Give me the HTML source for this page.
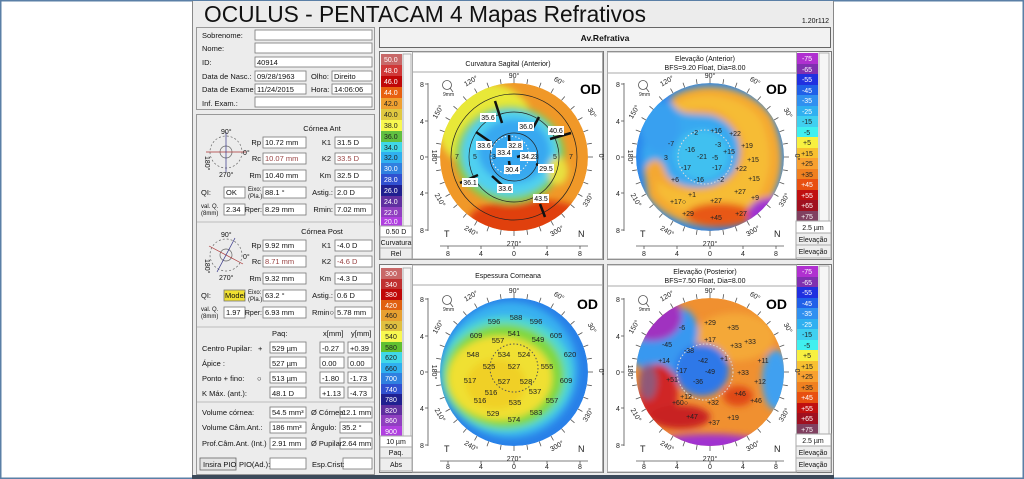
<!DOCTYPE html>
<html><head><meta charset="utf-8"><style>
html,body{margin:0;padding:0;background:#fff}
svg{display:block;font-family:"Liberation Sans",sans-serif}
.s{font-size:7.5px;fill:#111}
.in{fill:#fff;stroke:#777;stroke-width:0.8}
.p{fill:#ececec;stroke:#999;stroke-width:1}
.t{font-size:7px;fill:#111}
</style></head><body>
<svg width="1024" height="479" viewBox="0 0 1024 479" xmlns="http://www.w3.org/2000/svg">
<defs>
<filter id="b" x="-20%" y="-20%" width="140%" height="140%"><feGaussianBlur stdDeviation="3.5"/></filter>
<clipPath id="cc"><circle cx="0" cy="0" r="74"/></clipPath>
<g id="ticks" stroke="#555" stroke-width="0.8">
<line x1="0" y1="-74" x2="0" y2="-79"/><line x1="0" y1="74" x2="0" y2="79"/><line x1="-74" y1="0" x2="-79" y2="0"/><line x1="74" y1="0" x2="79" y2="0"/>
<line x1="12.9" y1="-72.9" x2="13.7" y2="-77.8"/><line x1="25.3" y1="-69.5" x2="27" y2="-74.2"/><line x1="37" y1="-64.1" x2="39.5" y2="-68.4"/><line x1="47.6" y1="-56.7" x2="50.8" y2="-60.5"/><line x1="56.7" y1="-47.6" x2="60.5" y2="-50.8"/><line x1="64.1" y1="-37" x2="68.4" y2="-39.5"/><line x1="69.5" y1="-25.3" x2="74.2" y2="-27"/><line x1="72.9" y1="-12.9" x2="77.8" y2="-13.7"/>
<line x1="-12.9" y1="-72.9" x2="-13.7" y2="-77.8"/><line x1="-25.3" y1="-69.5" x2="-27" y2="-74.2"/><line x1="-37" y1="-64.1" x2="-39.5" y2="-68.4"/><line x1="-47.6" y1="-56.7" x2="-50.8" y2="-60.5"/><line x1="-56.7" y1="-47.6" x2="-60.5" y2="-50.8"/><line x1="-64.1" y1="-37" x2="-68.4" y2="-39.5"/><line x1="-69.5" y1="-25.3" x2="-74.2" y2="-27"/><line x1="-72.9" y1="-12.9" x2="-77.8" y2="-13.7"/>
<line x1="12.9" y1="72.9" x2="13.7" y2="77.8"/><line x1="25.3" y1="69.5" x2="27" y2="74.2"/><line x1="37" y1="64.1" x2="39.5" y2="68.4"/><line x1="47.6" y1="56.7" x2="50.8" y2="60.5"/><line x1="56.7" y1="47.6" x2="60.5" y2="50.8"/><line x1="64.1" y1="37" x2="68.4" y2="39.5"/><line x1="69.5" y1="25.3" x2="74.2" y2="27"/><line x1="72.9" y1="12.9" x2="77.8" y2="13.7"/>
<line x1="-12.9" y1="72.9" x2="-13.7" y2="77.8"/><line x1="-25.3" y1="69.5" x2="-27" y2="74.2"/><line x1="-37" y1="64.1" x2="-39.5" y2="68.4"/><line x1="-47.6" y1="56.7" x2="-50.8" y2="60.5"/><line x1="-56.7" y1="47.6" x2="-60.5" y2="50.8"/><line x1="-64.1" y1="37" x2="-68.4" y2="39.5"/><line x1="-69.5" y1="25.3" x2="-74.2" y2="27"/><line x1="-72.9" y1="12.9" x2="-77.8" y2="13.7"/>
<line x1="-86" y1="-74" x2="-86" y2="74"/><line x1="-74" y1="89" x2="74" y2="89"/>
<line x1="-89" y1="-73" x2="-86" y2="-73"/><line x1="-89" y1="-36" x2="-86" y2="-36"/><line x1="-89" y1="0" x2="-86" y2="0"/><line x1="-89" y1="36" x2="-86" y2="36"/><line x1="-89" y1="73" x2="-86" y2="73"/>
<line x1="-66" y1="89" x2="-66" y2="92"/><line x1="-33" y1="89" x2="-33" y2="92"/><line x1="0" y1="89" x2="0" y2="92"/><line x1="33" y1="89" x2="33" y2="92"/><line x1="66" y1="89" x2="66" y2="92"/>
<circle cx="-67" cy="-72" r="4.5" fill="none"/><line x1="-64" y1="-69" x2="-61" y2="-65"/>
</g>
</defs>
<rect x="0.5" y="0.5" width="1023" height="478" fill="#fff" stroke="#5a7fa6" stroke-width="2"/>
<rect x="192" y="1" width="642" height="477" fill="#ececec"/>
<line x1="192.5" y1="1" x2="192.5" y2="478" stroke="#888"/>
<line x1="833.5" y1="1" x2="833.5" y2="478" stroke="#888"/>
<rect x="192" y="475" width="642" height="4" fill="#3c4a5a"/>
<text x="204" y="22" font-size="23" fill="#111" textLength="442" lengthAdjust="spacingAndGlyphs">OCULUS - PENTACAM 4 Mapas Refrativos</text>
<text x="829" y="23" text-anchor="end" class="t">1.20r112</text>

<rect x="196.5" y="27.5" width="178" height="82" class="p"/>
<g class="s">
<text x="202" y="38">Sobrenome:</text><text x="202" y="51">Nome:</text><text x="202" y="65">ID:</text>
<text x="202" y="79">Data de Nasc.:</text><text x="202" y="92">Data de Exame:</text><text x="202" y="106">Inf. Exam.:</text>
</g>
<rect x="255" y="30" width="117" height="10" class="in"/><rect x="255" y="43" width="117" height="10" class="in"/>
<rect x="255" y="57" width="117" height="10" class="in"/><rect x="255" y="71" width="51" height="10" class="in"/>
<rect x="332" y="71" width="40" height="10" class="in"/><rect x="255" y="84" width="51" height="10" class="in"/>
<rect x="332" y="84" width="40" height="10" class="in"/><rect x="255" y="97" width="117" height="10" class="in"/>
<g class="s"><text x="257" y="65">40914</text><text x="257" y="79">09/28/1963</text><text x="311" y="79">Olho:</text><text x="334" y="79">Direito</text>
<text x="257" y="92">11/24/2015</text><text x="311" y="92">Hora:</text><text x="334" y="92">14:06:06</text></g>

<rect x="196.5" y="114.5" width="178" height="360" class="p"/>
<line x1="197" y1="222" x2="374" y2="222" stroke="#bbb"/>
<line x1="197" y1="327" x2="374" y2="327" stroke="#bbb"/>
<line x1="197" y1="402" x2="374" y2="402" stroke="#bbb"/>
<g transform="translate(226,152)" stroke="#666" fill="none" stroke-width="0.7">
<circle r="16" stroke-dasharray="2 2"/><circle r="6"/><line x1="-20" y1="0" x2="20" y2="0" stroke="#a33"/><line x1="0" y1="-20" x2="0" y2="20" stroke="#338"/>
</g>
<g transform="translate(226,255)" stroke="#666" fill="none" stroke-width="0.7">
<circle r="16" stroke-dasharray="2 2"/><circle r="6"/><line x1="-17" y1="-9" x2="17" y2="9" stroke="#a33"/><line x1="-9" y1="17" x2="9" y2="-17" stroke="#338"/>
</g>
<g class="t"><text x="221" y="134">90°</text><text x="219" y="177">270°</text><text x="221" y="237">90°</text><text x="219" y="280">270°</text>
<text transform="translate(205,156) rotate(90)">180°</text><text x="243" y="155">0°</text><text transform="translate(205,259) rotate(90)">180°</text><text x="243" y="259">0°</text></g>

<g class="s">
<text x="322" y="131" text-anchor="middle">Córnea Ant</text>
<text x="261" y="145" text-anchor="end">Rp</text><text x="261" y="161" text-anchor="end">Rc</text><text x="261" y="178" text-anchor="end">Rm</text>
<text x="331" y="145" text-anchor="end">K1</text><text x="331" y="161" text-anchor="end">K2</text><text x="331" y="178" text-anchor="end">Km</text>
<text x="201" y="195">QI:</text><text x="248" y="191" font-size="6">Eixo:</text><text x="248" y="198" font-size="6">(Pla.)</text><text x="333" y="195" text-anchor="end">Astig.:</text>
<text x="201" y="208" font-size="6">val. Q.</text><text x="201" y="215" font-size="6">(8mm)</text><text x="262" y="212" text-anchor="end" font-size="7">Rper:</text><text x="333" y="212" text-anchor="end">Rmin:</text>
<text x="322" y="234" text-anchor="middle">Córnea Post</text>
<text x="261" y="248" text-anchor="end">Rp</text><text x="261" y="264" text-anchor="end">Rc</text><text x="261" y="281" text-anchor="end">Rm</text>
<text x="331" y="248" text-anchor="end">K1</text><text x="331" y="264" text-anchor="end">K2</text><text x="331" y="281" text-anchor="end">Km</text>
<text x="201" y="298">QI:</text><text x="248" y="294" font-size="6">Eixo:</text><text x="248" y="301" font-size="6">(Pla.)</text><text x="333" y="298" text-anchor="end">Astig.:</text>
<text x="201" y="311" font-size="6">val. Q.</text><text x="201" y="318" font-size="6">(8mm)</text><text x="262" y="315" text-anchor="end" font-size="7">Rper:</text><text x="334" y="315" text-anchor="end">Rmin○</text>
</g>
<g>
<rect x="263" y="137" width="43" height="11" class="in"/><rect x="335" y="137" width="37" height="11" class="in"/>
<rect x="263" y="153" width="43" height="11" class="in"/><rect x="335" y="153" width="37" height="11" class="in"/>
<rect x="263" y="170" width="43" height="11" class="in"/><rect x="335" y="170" width="37" height="11" class="in"/>
<rect x="224" y="187" width="21" height="11" class="in"/><rect x="263" y="187" width="43" height="11" class="in"/><rect x="335" y="187" width="37" height="11" class="in"/>
<rect x="224" y="204" width="21" height="11" class="in"/><rect x="263" y="204" width="43" height="11" class="in"/><rect x="335" y="204" width="37" height="11" class="in"/>
<rect x="263" y="240" width="43" height="11" class="in"/><rect x="335" y="240" width="37" height="11" class="in"/>
<rect x="263" y="256" width="43" height="11" class="in"/><rect x="335" y="256" width="37" height="11" class="in"/>
<rect x="263" y="273" width="43" height="11" class="in"/><rect x="335" y="273" width="37" height="11" class="in"/>
<rect x="224" y="290" width="21" height="11" fill="#f0e030" stroke="#777" stroke-width="0.8"/><rect x="263" y="290" width="43" height="11" class="in"/><rect x="335" y="290" width="37" height="11" class="in"/>
<rect x="224" y="307" width="21" height="11" class="in"/><rect x="263" y="307" width="43" height="11" class="in"/><rect x="335" y="307" width="37" height="11" class="in"/>
</g>
<g class="s">
<text x="265" y="145">10.72 mm</text><text x="337" y="145">31.5 D</text>
<text x="265" y="161" fill="#944">10.07 mm</text><text x="337" y="161" fill="#944">33.5 D</text>
<text x="265" y="178">10.40 mm</text><text x="337" y="178">32.5 D</text>
<text x="226" y="195">OK</text><text x="265" y="195">88.1 °</text><text x="337" y="195">2.0 D</text>
<text x="226" y="212">2.34</text><text x="265" y="212">8.29 mm</text><text x="337" y="212">7.02 mm</text>
<text x="265" y="248">9.92 mm</text><text x="337" y="248">-4.0 D</text>
<text x="265" y="264" fill="#944">8.71 mm</text><text x="337" y="264" fill="#944">-4.6 D</text>
<text x="265" y="281">9.32 mm</text><text x="337" y="281">-4.3 D</text>
<text x="225" y="298">Model</text><text x="265" y="298">63.2 °</text><text x="337" y="298">0.6 D</text>
<text x="226" y="315">1.97</text><text x="265" y="315">6.93 mm</text><text x="337" y="315">5.78 mm</text>
</g>
<g class="s">
<text x="272" y="336">Paq:</text><text x="323" y="336">x[mm]</text><text x="351" y="336">y[mm]</text>
<text x="202" y="351">Centro Pupilar:</text><text x="258" y="351">+</text>
<text x="202" y="366">Ápice :</text>
<text x="202" y="381">Ponto + fino:</text><text x="257" y="381">○</text>
<text x="202" y="396">K Máx. (ant.):</text>
</g>
<g>
<rect x="270" y="342" width="36" height="11" class="in"/><rect x="320" y="342" width="24" height="11" class="in"/><rect x="348" y="342" width="24" height="11" class="in"/>
<rect x="270" y="357" width="36" height="11" class="in"/><rect x="320" y="357" width="24" height="11" class="in"/><rect x="348" y="357" width="24" height="11" class="in"/>
<rect x="270" y="372" width="36" height="11" class="in"/><rect x="320" y="372" width="24" height="11" class="in"/><rect x="348" y="372" width="24" height="11" class="in"/>
<rect x="270" y="387" width="36" height="11" class="in"/><rect x="320" y="387" width="24" height="11" class="in"/><rect x="348" y="387" width="24" height="11" class="in"/>
</g>
<g class="s">
<text x="272" y="351">529 µm</text><text x="322" y="351">-0.27</text><text x="350" y="351">+0.39</text>
<text x="272" y="366">527 µm</text><text x="322" y="366">0.00</text><text x="350" y="366">0.00</text>
<text x="272" y="381">513 µm</text><text x="322" y="381">-1.80</text><text x="350" y="381">-1.73</text>
<text x="272" y="396">48.1 D</text><text x="322" y="396">+1.13</text><text x="350" y="396">-4.73</text>
</g>
<g>
<rect x="270" y="407" width="36" height="11" class="in"/><rect x="340" y="407" width="32" height="11" class="in"/>
<rect x="270" y="422" width="36" height="11" class="in"/><rect x="340" y="422" width="32" height="11" class="in"/>
<rect x="270" y="438" width="36" height="11" class="in"/><rect x="340" y="438" width="32" height="11" class="in"/>
<rect x="200" y="458" width="36" height="12" fill="#e4e4e4" stroke="#666" stroke-width="0.8"/>
<rect x="270" y="458" width="36" height="11" class="in"/><rect x="343" y="458" width="29" height="11" class="in"/>
</g>
<g class="s">
<text x="202" y="415">Volume córnea:</text><text x="272" y="415">54.5 mm³</text><text x="311" y="415">Ø Córnea:</text><text x="342" y="415">12.1 mm</text>
<text x="202" y="430">Volume Câm.Ant.:</text><text x="272" y="430">186 mm³</text><text x="311" y="430">Ângulo:</text><text x="342" y="430">35.2 °</text>
<text x="202" y="446">Prof.Câm.Ant. (Int.)</text><text x="272" y="446">2.91 mm</text><text x="311" y="446">Ø Pupilar:</text><text x="342" y="446">2.64 mm</text>
<text x="203" y="467">Insira PIO</text><text x="239" y="467">PIO(Ad.):</text><text x="312" y="467">Esp.Crist:</text>
</g>

<rect x="379.5" y="27.5" width="451" height="20" fill="#f2f2f2" stroke="#666"/>
<text x="605" y="41" text-anchor="middle" font-size="8.5" font-weight="bold" fill="#111">Av.Refrativa</text>

<rect x="379.5" y="51.5" width="224" height="208" fill="#f6f6f6" stroke="#777"/>
<rect x="412.5" y="52" width="190" height="207" fill="#fff" stroke="#aaa"/>
<line x1="413" y1="72" x2="602" y2="72" stroke="#aaa"/>
<text x="508" y="66" text-anchor="middle" class="t">Curvatura Sagital (Anterior)</text>
<g>
<rect x="381" y="54" width="21" height="11" fill="#c86868"/><rect x="381" y="65" width="21" height="11" fill="#d03838"/><rect x="381" y="76" width="21" height="11" fill="#c00808"/><rect x="381" y="87" width="21" height="11" fill="#e86010"/>
<rect x="381" y="98" width="21" height="11" fill="#f0a030"/><rect x="381" y="109" width="21" height="11" fill="#e0c840"/><rect x="381" y="120" width="21" height="11" fill="#f8f850"/><rect x="381" y="131" width="21" height="11" fill="#60c040"/>
<rect x="381" y="142" width="21" height="10" fill="#40d8e8"/><rect x="381" y="152" width="21" height="11" fill="#30b0f0"/><rect x="381" y="163" width="21" height="11" fill="#3080e0"/><rect x="381" y="174" width="21" height="11" fill="#3050d0"/>
<rect x="381" y="185" width="21" height="11" fill="#202090"/><rect x="381" y="196" width="21" height="11" fill="#6030a0"/><rect x="381" y="207" width="21" height="10" fill="#9040c0"/><rect x="381" y="217" width="21" height="9" fill="#b040e0"/>
</g>
<g fill="#fff" font-size="7"><text x="384" y="62">50.0</text><text x="384" y="73">48.0</text><text x="384" y="84">46.0</text><text x="384" y="95">44.0</text><text x="384" y="106" fill="#222">42.0</text><text x="384" y="117" fill="#222">40.0</text><text x="384" y="128" fill="#222">38.0</text><text x="384" y="139" fill="#222">36.0</text><text x="384" y="150" fill="#222">34.0</text><text x="384" y="160" fill="#222">32.0</text><text x="384" y="171">30.0</text><text x="384" y="182">28.0</text><text x="384" y="193">26.0</text><text x="384" y="204">24.0</text><text x="384" y="215">22.0</text><text x="384" y="224">20.0</text></g>
<rect x="403" y="54" width="8" height="172" fill="none" stroke="#888" stroke-width="0.6"/>
<rect x="380" y="226" width="32" height="11" fill="#fff" stroke="#aaa"/><rect x="380" y="237" width="32" height="11" fill="#eee" stroke="#aaa"/><rect x="380" y="248" width="32" height="11" fill="#eee" stroke="#aaa"/>
<g class="t" text-anchor="middle"><text x="396" y="234">0.50 D</text><text x="396" y="245">Curvatura</text><text x="396" y="256">Rel</text></g>
<g transform="translate(514,157)">
<g clip-path="url(#cc)"><circle r="74" fill="#f09828"/>
<g filter="url(#b)">
<ellipse cx="15" cy="62" rx="60" ry="20" fill="#e04010"/>
<ellipse cx="-28" cy="-30" rx="48" ry="44" fill="#e8e838"/>
<ellipse cx="-4" cy="-2" rx="55" ry="49" fill="#80d050"/>
<ellipse cx="-4" cy="-4" rx="48" ry="43" fill="#50d0f0"/>
<ellipse cx="0" cy="-6" rx="36" ry="32" fill="#38a8f0"/>
<ellipse cx="44" cy="14" rx="10" ry="14" fill="#e8e040"/>
</g></g>
<g fill="none" stroke="#222" stroke-width="0.7"><circle r="24"/><circle r="45"/><circle r="63"/></g>
<circle cx="-4" cy="-2" r="19" fill="none" stroke="#eee" stroke-dasharray="1.5 2"/>
<g stroke="#111" stroke-width="2.5"><line x1="-19" y1="-56" x2="-12" y2="-34"/><line x1="19" y1="-29" x2="25" y2="-40"/><line x1="36" y1="-18" x2="57" y2="-24"/><line x1="-38" y1="-25" x2="-22" y2="-14"/><line x1="-5" y1="-22" x2="-4" y2="0"/><line x1="3" y1="0" x2="10" y2="-2"/><line x1="22" y1="7" x2="35" y2="12"/><line x1="-5" y1="4" x2="-4" y2="11"/><line x1="-54" y1="26" x2="-36" y2="18"/><line x1="-22" y1="19" x2="-12" y2="28"/><line x1="26" y1="47" x2="31" y2="60"/></g>
<g font-size="7" text-anchor="middle">
<rect x="-34" y="-44" width="16" height="9" fill="#fff"/><text x="-26" y="-37">35.6</text>
<rect x="4" y="-35" width="16" height="9" fill="#fff"/><text x="12" y="-28">36.0</text>
<rect x="34" y="-31" width="16" height="9" fill="#fff"/><text x="42" y="-24">40.6</text>
<rect x="-38" y="-16" width="16" height="9" fill="#fff"/><text x="-30" y="-9">33.6</text>
<rect x="-18" y="-9" width="16" height="9" fill="#fff"/><text x="-10" y="-2">33.4</text>
<rect x="-7" y="-16" width="16" height="9" fill="#fff"/><text x="1" y="-9">32.8</text>
<rect x="6" y="-5" width="16" height="9" fill="#fff"/><text x="14" y="2">34.2</text>
<rect x="24" y="7" width="16" height="9" fill="#fff"/><text x="32" y="14">29.5</text>
<rect x="-10" y="8" width="16" height="9" fill="#fff"/><text x="-2" y="15">30.4</text>
<rect x="-52" y="21" width="16" height="9" fill="#fff"/><text x="-44" y="28">36.1</text>
<rect x="-17" y="27" width="16" height="9" fill="#fff"/><text x="-9" y="34">33.6</text>
<rect x="19" y="37" width="16" height="9" fill="#fff"/><text x="27" y="44">43.5</text>
</g>
<g font-size="7" fill="#222" text-anchor="middle"><text x="-57" y="2">7</text><text x="-39" y="2">5</text><text x="-20" y="2">3</text><text x="22" y="2">3</text><text x="41" y="2">5</text><text x="57" y="2">7</text></g>
</g>

<rect x="607.5" y="51.5" width="224" height="208" fill="#f6f6f6" stroke="#777"/>
<rect x="607.5" y="52" width="189" height="207" fill="#fff" stroke="#aaa"/>
<line x1="608" y1="73" x2="796" y2="73" stroke="#aaa"/>
<text x="705" y="61" text-anchor="middle" class="t">Elevação (Anterior)</text>
<text x="705" y="70" text-anchor="middle" class="t">BFS=9.20 Float, Dia=8.00</text>

<rect x="379.5" y="264.5" width="224" height="208" fill="#f6f6f6" stroke="#777"/>
<rect x="412.5" y="265" width="190" height="207" fill="#fff" stroke="#aaa"/>
<line x1="413" y1="285" x2="602" y2="285" stroke="#aaa"/>
<text x="508" y="278" text-anchor="middle" class="t">Espessura Corneana</text>

<rect x="607.5" y="264.5" width="224" height="208" fill="#f6f6f6" stroke="#777"/>
<rect x="607.5" y="265" width="189" height="207" fill="#fff" stroke="#aaa"/>
<line x1="608" y1="286" x2="796" y2="286" stroke="#aaa"/>
<text x="705" y="274" text-anchor="middle" class="t">Elevação (Posterior)</text>
<text x="705" y="283" text-anchor="middle" class="t">BFS=7.50 Float, Dia=8.00</text>

<g id="esc">
<rect x="797" y="53" width="21" height="11" fill="#b030d0"/><rect x="797" y="64" width="21" height="10" fill="#8030b0"/><rect x="797" y="74" width="21" height="11" fill="#2030e0"/><rect x="797" y="85" width="21" height="10" fill="#2060e8"/>
<rect x="797" y="95" width="21" height="11" fill="#3090f0"/><rect x="797" y="106" width="21" height="10" fill="#30b0f0"/><rect x="797" y="116" width="21" height="11" fill="#40d0f0"/><rect x="797" y="127" width="21" height="10" fill="#40f0f0"/>
<rect x="797" y="137" width="21" height="11" fill="#f8f040"/><rect x="797" y="148" width="21" height="10" fill="#f8c030"/><rect x="797" y="158" width="21" height="11" fill="#f8a030"/><rect x="797" y="169" width="21" height="10" fill="#f08020"/>
<rect x="797" y="179" width="21" height="11" fill="#e85010"/><rect x="797" y="190" width="21" height="10" fill="#c01010"/><rect x="797" y="200" width="21" height="11" fill="#a01020"/><rect x="797" y="211" width="21" height="10" fill="#804060"/>
<rect x="819" y="53" width="10" height="168" fill="none" stroke="#888" stroke-width="0.6"/>
<rect x="796" y="221" width="35" height="12" fill="#fff" stroke="#aaa"/><rect x="796" y="233" width="35" height="12" fill="#eee" stroke="#aaa"/><rect x="796" y="245" width="35" height="13" fill="#eee" stroke="#aaa"/>
</g>
<use href="#esc" y="213"/>
<g font-size="7" fill="#fff" text-anchor="middle">
<text x="807" y="61">-75</text><text x="807" y="72">-65</text><text x="807" y="82">-55</text><text x="807" y="93">-45</text><text x="807" y="103">-35</text><text x="807" y="114">-25</text><text x="807" y="124" fill="#222">-15</text><text x="807" y="135" fill="#222">-5</text>
<text x="807" y="145" fill="#222">+5</text><text x="807" y="156" fill="#222">+15</text><text x="807" y="166" fill="#222">+25</text><text x="807" y="177" fill="#222">+35</text><text x="807" y="187">+45</text><text x="807" y="198">+55</text><text x="807" y="208">+65</text><text x="807" y="219">+75</text>
<text x="807" y="274">-75</text><text x="807" y="285">-65</text><text x="807" y="295">-55</text><text x="807" y="306">-45</text><text x="807" y="316">-35</text><text x="807" y="327">-25</text><text x="807" y="337" fill="#222">-15</text><text x="807" y="348" fill="#222">-5</text>
<text x="807" y="358" fill="#222">+5</text><text x="807" y="369" fill="#222">+15</text><text x="807" y="379" fill="#222">+25</text><text x="807" y="390" fill="#222">+35</text><text x="807" y="400">+45</text><text x="807" y="411">+55</text><text x="807" y="421">+65</text><text x="807" y="432">+75</text>
</g>
<g class="t" text-anchor="middle"><text x="813" y="230">2.5 µm</text><text x="813" y="242">Elevação</text><text x="813" y="254">Elevação</text>
<text x="813" y="443">2.5 µm</text><text x="813" y="455">Elevação</text><text x="813" y="467">Elevação</text></g>

<g>
<rect x="381" y="268" width="21" height="11" fill="#c86868"/><rect x="381" y="279" width="21" height="10" fill="#c03030"/><rect x="381" y="289" width="21" height="11" fill="#c00808"/><rect x="381" y="300" width="21" height="10" fill="#e06010"/>
<rect x="381" y="310" width="21" height="11" fill="#e8a030"/><rect x="381" y="321" width="21" height="10" fill="#e0c040"/><rect x="381" y="331" width="21" height="11" fill="#f8f850"/><rect x="381" y="342" width="21" height="10" fill="#60c030"/>
<rect x="381" y="352" width="21" height="11" fill="#40d8e8"/><rect x="381" y="363" width="21" height="10" fill="#30b0f0"/><rect x="381" y="373" width="21" height="11" fill="#3080e0"/><rect x="381" y="384" width="21" height="10" fill="#3050d0"/>
<rect x="381" y="394" width="21" height="11" fill="#202090"/><rect x="381" y="405" width="21" height="10" fill="#6030a0"/><rect x="381" y="415" width="21" height="11" fill="#9040c0"/><rect x="381" y="426" width="21" height="10" fill="#b040e0"/>
<rect x="403" y="268" width="8" height="168" fill="none" stroke="#888" stroke-width="0.6"/>
<rect x="380" y="436" width="32" height="11" fill="#fff" stroke="#aaa"/><rect x="380" y="447" width="32" height="11" fill="#eee" stroke="#aaa"/><rect x="380" y="458" width="32" height="13" fill="#eee" stroke="#aaa"/>
</g>
<g fill="#fff" font-size="7" text-anchor="middle"><text x="391" y="276">300</text><text x="391" y="287">340</text><text x="391" y="297">380</text><text x="391" y="308">420</text><text x="391" y="318" fill="#222">460</text><text x="391" y="329" fill="#222">500</text><text x="391" y="339" fill="#222">540</text><text x="391" y="350" fill="#222">580</text><text x="391" y="360" fill="#222">620</text><text x="391" y="371" fill="#222">660</text><text x="391" y="381">700</text><text x="391" y="392">740</text><text x="391" y="402">780</text><text x="391" y="413">820</text><text x="391" y="423">860</text><text x="391" y="434">900</text></g>
<g class="t" text-anchor="middle"><text x="396" y="444">10 µm</text><text x="396" y="455">Paq.</text><text x="396" y="467">Abs</text></g>

<!-- TR map -->
<g transform="translate(710,157)">
<g clip-path="url(#cc)"><circle r="74" fill="#2a88ec"/>
<g filter="url(#b)">
<circle r="68" fill="#38a8f0"/>
<path d="M-40,-58 C-15,-78 40,-74 62,-40 C80,0 72,40 42,62 C10,78 -40,70 -62,40 L-66,12 C-58,-2 -48,0 -44,16 C-36,34 10,38 25,12 C36,-10 26,-36 0,-42 C-22,-44 -32,-40 -40,-58 Z" fill="#f4a830"/>
<path d="M-36,-52 C-15,-68 35,-64 52,-35 C66,0 60,34 36,52 C10,64 -36,58 -52,36 L-54,22 C-44,36 10,44 30,14 C42,-10 30,-40 2,-48 C-20,-50 -30,-44 -36,-52 Z" fill="#f6bc34"/>
<ellipse cx="10" cy="58" rx="34" ry="12" fill="#e85818"/>
<ellipse cx="64" cy="56" rx="26" ry="16" fill="#a030d0"/>
<ellipse cx="-8" cy="-2" rx="27" ry="25" fill="#40c0f0"/>
<ellipse cx="-50" cy="-30" rx="20" ry="26" fill="#38a0f0"/>
</g></g>
<circle cx="-5" cy="0" r="27" fill="none" stroke="#ddd" stroke-dasharray="1.5 2"/>
<g font-size="7" fill="#222" text-anchor="middle">
<text x="6" y="-24">+16</text><text x="25" y="-21">+22</text><text x="-15" y="-22">-2</text><text x="8" y="-10">-3</text><text x="37" y="-9">+19</text><text x="-39" y="-11">-7</text><text x="-20" y="-5">-16</text><text x="19" y="-3">+15</text><text x="-8" y="2">-21</text><text x="-44" y="3">3</text><text x="5" y="3">-5</text><text x="43" y="5">+15</text><text x="-24" y="13">-17</text><text x="7" y="13">-17</text><text x="31" y="14">+22</text><text x="-11" y="25">-16</text><text x="11" y="25">-2</text><text x="44" y="24">+15</text><text x="-35" y="25">+6</text><text x="-18" y="40">+1</text><text x="30" y="37">+27</text><text x="-32" y="47">+17○</text><text x="6" y="46">+27</text><text x="45" y="43">+9</text><text x="-22" y="59">+29</text><text x="6" y="63">+45</text><text x="31" y="59">+27</text></g>
</g>

<!-- BL map -->
<g transform="translate(514,372)">
<g clip-path="url(#cc)"><circle r="74" fill="#2880e8"/>
<g filter="url(#b)">
<circle cx="-4" cy="-2" r="68" fill="#38b0f0"/>
<ellipse cx="-8" cy="2" rx="66" ry="58" fill="#50d8d0"/>
<ellipse cx="-10" cy="4" rx="60" ry="52" fill="#80d840"/>
<ellipse cx="-14" cy="6" rx="52" ry="42" fill="#f0e030"/>
<ellipse cx="-18" cy="12" rx="30" ry="25" fill="#f0d028"/>
</g></g>
<circle cx="0" cy="-4" r="24" fill="none" stroke="#555" stroke-dasharray="1.5 2"/>
<g font-size="7.5" fill="#222" text-anchor="middle">
<text x="-20" y="-48">596</text><text x="2" y="-52">588</text><text x="22" y="-48">596</text><text x="-38" y="-34">609</text><text x="0" y="-36">541</text><text x="-16" y="-29">557</text><text x="24" y="-30">549</text><text x="42" y="-34">605</text>
<text x="-41" y="-15">548</text><text x="-10" y="-15">534</text><text x="10" y="-15">524</text><text x="56" y="-15">620</text><text x="-25" y="-3">525</text><text x="0" y="-3">527</text><text x="33" y="-3">555</text>
<text x="-44" y="11">517</text><text x="-10" y="12">527</text><text x="12" y="12">528</text><text x="52" y="11">609</text><text x="-23" y="23">516</text><text x="21" y="22">537</text><text x="-34" y="31">516</text><text x="1" y="33">535</text><text x="38" y="31">557</text><text x="-21" y="44">529</text><text x="22" y="43">583</text><text x="0" y="50">574</text></g>
</g>

<!-- BR map -->
<g transform="translate(710,372)">
<g clip-path="url(#cc)"><circle r="74" fill="#f09030"/>
<g filter="url(#b)">
<ellipse cx="25" cy="-35" rx="40" ry="24" fill="#f4a838"/>
<ellipse cx="-45" cy="-18" rx="34" ry="20" fill="#3898f0"/>
<ellipse cx="-30" cy="-40" rx="18" ry="24" fill="#3898f0"/>
<ellipse cx="-58" cy="-55" rx="30" ry="24" fill="#a030c0"/>
<ellipse cx="-8" cy="-2" rx="27" ry="26" fill="#2f78e8"/>
<ellipse cx="66" cy="8" rx="14" ry="30" fill="#40a0f0"/>
<ellipse cx="0" cy="76" rx="65" ry="14" fill="#a030d0"/>
<ellipse cx="-52" cy="22" rx="20" ry="30" fill="#d02828"/>
<ellipse cx="-62" cy="10" rx="9" ry="18" fill="#905878"/>
<ellipse cx="-30" cy="45" rx="30" ry="12" fill="#c82020"/>
<ellipse cx="28" cy="24" rx="15" ry="10" fill="#e04818"/>
</g></g>
<circle cx="-5" cy="0" r="28" fill="none" stroke="#ddd" stroke-dasharray="1.5 2"/>
<g font-size="7" fill="#222" text-anchor="middle">
<text x="0" y="-47">+29</text><text x="23" y="-42">+35</text><text x="-28" y="-42">-6</text><text x="0" y="-30">+17</text><text x="-43" y="-25">-45</text><text x="26" y="-24">+33</text><text x="40" y="-28">+33</text><text x="-21" y="-19">-38</text><text x="-7" y="-9">-42</text><text x="14" y="-11">+1</text><text x="-46" y="-9">+14</text><text x="53" y="-9">+11</text><text x="-28" y="1">-17</text><text x="0" y="2">-49</text><text x="33" y="3">+33</text><text x="-38" y="10">+51</text><text x="-12" y="12">-36</text><text x="50" y="12">+12</text><text x="-24" y="27">+12</text><text x="30" y="24">+46</text><text x="-30" y="33">+60○</text><text x="3" y="33">+32</text><text x="46" y="31">+46</text><text x="-18" y="47">+47</text><text x="4" y="53">+37</text><text x="23" y="48">+19</text></g>
</g>

<use href="#ticks" x="514" y="157"/><use href="#ticks" x="710" y="157"/><use href="#ticks" x="514" y="372"/><use href="#ticks" x="710" y="372"/>
<g font-size="7" fill="#222">
<g transform="translate(514,157)">
<text x="-94" y="-70">8</text><text x="-94" y="-33">4</text><text x="-94" y="3">0</text><text x="-94" y="39">4</text><text x="-94" y="76">8</text>
<text x="-68" y="99">8</text><text x="-35" y="99">4</text><text x="-2" y="99">0</text><text x="31" y="99">4</text><text x="64" y="99">8</text>
<text x="-71" y="-61" font-size="5">9mm</text><text x="-70" y="80" font-size="9">T</text><text x="64" y="80" font-size="9">N</text>
<text x="66" y="-63" font-size="14" font-weight="bold" fill="#000">OD</text>
<text x="0" y="-79" text-anchor="middle">90°</text><text x="0" y="89" text-anchor="middle">270°</text>
<text transform="translate(44,-74) rotate(30)" text-anchor="middle">60°</text><text transform="translate(76,-43) rotate(60)" text-anchor="middle">30°</text><text transform="translate(85,0) rotate(90)" text-anchor="middle">0°</text>
<text transform="translate(76,44) rotate(-60)" text-anchor="middle">330°</text><text transform="translate(44,76) rotate(-30)" text-anchor="middle">300°</text>
<text transform="translate(-44,76) rotate(30)" text-anchor="middle">240°</text><text transform="translate(-76,44) rotate(60)" text-anchor="middle">210°</text>
<text transform="translate(-82,0) rotate(90)" text-anchor="middle">180°</text><text transform="translate(-74,-44) rotate(-60)" text-anchor="middle">150°</text><text transform="translate(-42,-74) rotate(-30)" text-anchor="middle">120°</text>
</g>
<g transform="translate(710,157)">
<text x="-94" y="-70">8</text><text x="-94" y="-33">4</text><text x="-94" y="3">0</text><text x="-94" y="39">4</text><text x="-94" y="76">8</text>
<text x="-68" y="99">8</text><text x="-35" y="99">4</text><text x="-2" y="99">0</text><text x="31" y="99">4</text><text x="64" y="99">8</text>
<text x="-71" y="-61" font-size="5">9mm</text><text x="-70" y="80" font-size="9">T</text><text x="64" y="80" font-size="9">N</text>
<text x="56" y="-63" font-size="14" font-weight="bold" fill="#000">OD</text>
<text x="0" y="-79" text-anchor="middle">90°</text><text x="0" y="89" text-anchor="middle">270°</text>
<text transform="translate(44,-74) rotate(30)" text-anchor="middle">60°</text><text transform="translate(76,-43) rotate(60)" text-anchor="middle">30°</text><text transform="translate(85,0) rotate(90)" text-anchor="middle">0°</text>
<text transform="translate(76,44) rotate(-60)" text-anchor="middle">330°</text><text transform="translate(44,76) rotate(-30)" text-anchor="middle">300°</text>
<text transform="translate(-44,76) rotate(30)" text-anchor="middle">240°</text><text transform="translate(-76,44) rotate(60)" text-anchor="middle">210°</text>
<text transform="translate(-82,0) rotate(90)" text-anchor="middle">180°</text><text transform="translate(-74,-44) rotate(-60)" text-anchor="middle">150°</text><text transform="translate(-42,-74) rotate(-30)" text-anchor="middle">120°</text>
</g>
<g transform="translate(514,372)">
<text x="-94" y="-70">8</text><text x="-94" y="-33">4</text><text x="-94" y="3">0</text><text x="-94" y="39">4</text><text x="-94" y="76">8</text>
<text x="-68" y="97">8</text><text x="-35" y="97">4</text><text x="-2" y="97">0</text><text x="31" y="97">4</text><text x="64" y="97">8</text>
<text x="-71" y="-61" font-size="5">9mm</text><text x="-70" y="80" font-size="9">T</text><text x="64" y="80" font-size="9">N</text>
<text x="63" y="-63" font-size="14" font-weight="bold" fill="#000">OD</text>
<text x="0" y="-79" text-anchor="middle">90°</text><text x="0" y="89" text-anchor="middle">270°</text>
<text transform="translate(44,-74) rotate(30)" text-anchor="middle">60°</text><text transform="translate(76,-43) rotate(60)" text-anchor="middle">30°</text><text transform="translate(85,0) rotate(90)" text-anchor="middle">0°</text>
<text transform="translate(76,44) rotate(-60)" text-anchor="middle">330°</text><text transform="translate(44,76) rotate(-30)" text-anchor="middle">300°</text>
<text transform="translate(-44,76) rotate(30)" text-anchor="middle">240°</text><text transform="translate(-76,44) rotate(60)" text-anchor="middle">210°</text>
<text transform="translate(-82,0) rotate(90)" text-anchor="middle">180°</text><text transform="translate(-74,-44) rotate(-60)" text-anchor="middle">150°</text><text transform="translate(-42,-74) rotate(-30)" text-anchor="middle">120°</text>
</g>
<g transform="translate(710,372)">
<text x="-94" y="-70">8</text><text x="-94" y="-33">4</text><text x="-94" y="3">0</text><text x="-94" y="39">4</text><text x="-94" y="76">8</text>
<text x="-68" y="97">8</text><text x="-35" y="97">4</text><text x="-2" y="97">0</text><text x="31" y="97">4</text><text x="64" y="97">8</text>
<text x="-71" y="-61" font-size="5">9mm</text><text x="-70" y="80" font-size="9">T</text><text x="64" y="80" font-size="9">N</text>
<text x="56" y="-63" font-size="14" font-weight="bold" fill="#000">OD</text>
<text x="0" y="-79" text-anchor="middle">90°</text><text x="0" y="89" text-anchor="middle">270°</text>
<text transform="translate(44,-74) rotate(30)" text-anchor="middle">60°</text><text transform="translate(76,-43) rotate(60)" text-anchor="middle">30°</text><text transform="translate(85,0) rotate(90)" text-anchor="middle">0°</text>
<text transform="translate(76,44) rotate(-60)" text-anchor="middle">330°</text><text transform="translate(44,76) rotate(-30)" text-anchor="middle">300°</text>
<text transform="translate(-44,76) rotate(30)" text-anchor="middle">240°</text><text transform="translate(-76,44) rotate(60)" text-anchor="middle">210°</text>
<text transform="translate(-82,0) rotate(90)" text-anchor="middle">180°</text><text transform="translate(-74,-44) rotate(-60)" text-anchor="middle">150°</text><text transform="translate(-42,-74) rotate(-30)" text-anchor="middle">120°</text>
</g>
</g>
</svg>
</body></html>
